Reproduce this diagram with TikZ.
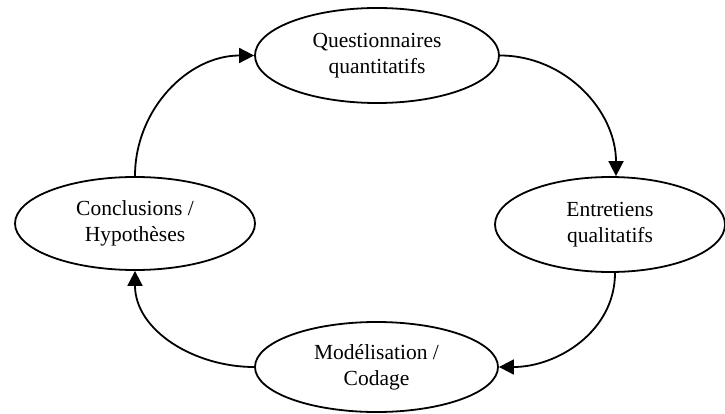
\documentclass[tikz,border=0pt]{standalone}
\usepackage{fontspec}
\setmainfont{Liberation Serif}
\usetikzlibrary{shapes.geometric,arrows.meta}
\begin{document}
\begin{tikzpicture}[x=1pt,y=-1pt,
  phase/.style={ellipse,draw,line width=1.8pt,inner sep=0pt,align=center,
    font=\fontsize{21.5pt}{26pt}\selectfont},
  flow/.style={line width=1.8pt,-{Triangle[length=15pt,width=15pt]}}]
\useasboundingbox (0,0) rectangle (725,414);
\node[phase,minimum width=244pt,minimum height=95pt] (q) at (377,55.5) {Questionnaires\\quantitatifs};
\node[phase,minimum width=230pt,minimum height=95pt] (e) at (610,224.5) {Entretiens\\qualitatifs};
\node[phase,minimum width=243pt,minimum height=90pt] (m) at (376.5,367) {Modélisation /\\Codage};
\node[phase,minimum width=240pt,minimum height=93pt] (c) at (135,223.5) {Conclusions /\\Hypothèses};
\draw[flow] (q.east) to[out=0,in=90] ([xshift=6pt]e.north);
\draw[flow] ([xshift=5pt]e.south) to[out=-90,in=0] (m.east);
\draw[flow] (m.west) to[out=180,in=-90] (c.south);
\draw[flow] (c.north) to[out=90,in=180] (q.west);
\end{tikzpicture}
\end{document}
